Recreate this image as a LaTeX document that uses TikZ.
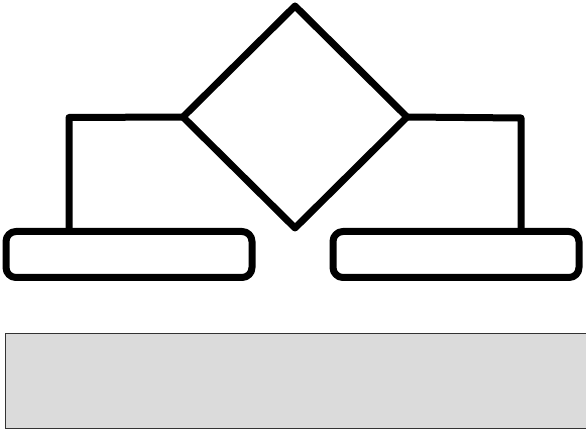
\documentclass[tikz,border=0pt]{standalone}
\usepackage{tikz}
\usetikzlibrary{positioning,shapes.geometric}

\begin{document}
\begin{tikzpicture}[x=1pt,y=-1pt]
	\tikzstyle{thick line}=[line width=7pt,line join=round]
	\tikzstyle{decision}=[diamond,draw,thick line,minimum width=224pt,minimum height=222pt,inner sep=0pt,outer sep=0pt]
	\tikzstyle{bar}=[rectangle,draw,thick line,rounded corners=10pt,minimum width=246pt,minimum height=46pt,inner sep=0pt]
	\useasboundingbox (0,0) rectangle (586,430);
		\node[decision] (dia) at (295,117) {};
		\node[bar] (lbox) at (129,254.5) {};
		\node[bar] (rbox) at (456,254.5) {};
		\coordinate (lknee) at (69,117.5);
		\coordinate (rknee) at (521,118);
			\draw[thick line] (dia.west) -- (lknee) -- (lknee |- lbox.north);
			\draw[thick line] (dia.east) -- (rknee) -- (rknee |- rbox.north);
		\node[rectangle,draw=black!80,line width=1pt,fill=black!14,minimum width=600pt,minimum height=95pt,anchor=north west,inner sep=0pt] (panel) at (5,333) {};
\end{tikzpicture}
\end{document}
